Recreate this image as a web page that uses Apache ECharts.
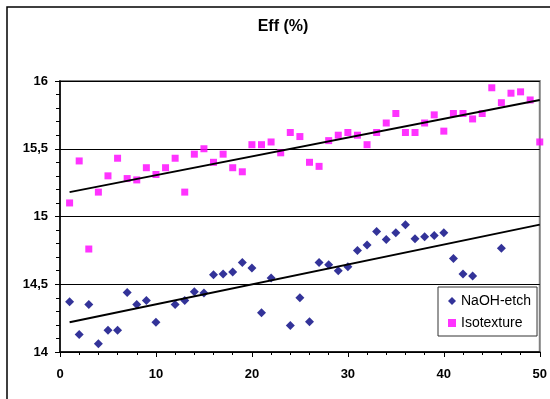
<!DOCTYPE html>
<html>
<head>
<meta charset="utf-8">
<script src="https://cdn.jsdelivr.net/npm/echarts@6/dist/echarts.min.js"></script>
<style>
  html, body { margin: 0; padding: 0; background: #fff; }
  #chart { width: 550px; height: 399px; }
</style>
</head>
<body>
<div id="chart"></div>
<script>
// Isotexture, one value per index 1..50
const isoX = [1,2,3,4,5,6,7,8,9,10,11,12,13,14,15,16,17,18,19,20,21,22,23,24,25,
  26,27,28,29,30,31,32,33,34,35,36,37,38,39,40,41,42,43,44,45,46,47,48,49,50];
const isoY = [15.10,15.41,14.76,15.18,15.30,15.43,15.28,15.27,15.36,15.31,
  15.36,15.43,15.18,15.46,15.50,15.40,15.46,15.36,15.33,15.53,
  15.53,15.55,15.47,15.62,15.59,15.40,15.37,15.56,15.60,15.62,
  15.60,15.53,15.62,15.69,15.76,15.62,15.62,15.69,15.75,15.63,
  15.76,15.76,15.72,15.76,15.95,15.84,15.91,15.92,15.86,15.55];

// NaOH-etch (some indices have no value)
const naohX = [1,2,3,4,5,6,7,8,9,10,12,13,14,15,16,17,18,19,20,21,22,24,25,26,27,
  28,29,30,31,32,33,34,35,36,37,38,39,40,41,42,43,46];
const naohY = [14.37,14.13,14.35,14.06,14.16,14.16,14.44,14.35,14.38,14.22,
  14.35,14.38,14.445,14.435,14.57,14.576,14.59,14.66,14.62,14.29,14.546,
  14.195,14.40,14.224,14.66,14.644,14.60,14.63,14.75,14.79,14.89,14.83,
  14.88,14.94,14.836,14.85,14.86,14.88,14.69,14.576,14.56,14.765];

// trend lines, end points
const trendX = [1, 50];
const isoTrend = [15.18, 15.86];
const naohTrend = [14.22, 14.94];

const yTicks = [14, 14.5, 15, 15.5, 16];
const xTicks = [0, 10, 20, 30, 40, 50];

const font = 'Arial, "Liberation Sans", sans-serif';
const zip = (xs, ys) => xs.map((x, i) => [x, ys[i]]);

const chart = echarts.init(document.getElementById('chart'));
chart.setOption({
  animation: false,
  textStyle: { fontFamily: font },
  title: {
    text: 'Eff (%)',
    left: 278, top: 14, textAlign: 'center',
    textStyle: { fontSize: 16, fontWeight: 'bold', color: '#000', fontFamily: font }
  },
  graphic: [{
    type: 'rect',
    shape: { x: 7, y: 7, width: 700, height: 600 },
    style: { fill: 'none', stroke: '#000', lineWidth: 1.5 },
    z: -1
  }],
  grid: {
    left: 60, right: 7, top: 81, bottom: 47,
    show: true, borderColor: '#808080', borderWidth: 2
  },
  legend: {
    orient: 'vertical',
    left: 438, top: 287, width: 95,
    padding: [7, 6, 6, 10],
    itemGap: 8,
    itemWidth: 8, itemHeight: 8,
    backgroundColor: '#fff',
    borderColor: '#333', borderWidth: 1,
    textStyle: { fontSize: 14, color: '#000', fontFamily: font },
    data: [
      { name: 'NaOH-etch', icon: 'diamond' },
      { name: 'Isotexture', icon: 'rect' }
    ]
  },
  xAxis: {
    type: 'value', min: xTicks[0], max: xTicks[xTicks.length - 1], interval: 10,
    axisLine: { lineStyle: { color: '#000', width: 1.5 } },
    axisTick: { show: true, length: 5, lineStyle: { color: '#000' } },
    minorTick: { show: true, splitNumber: 5, length: 3, lineStyle: { color: '#000' } },
    splitLine: { show: false },
    axisLabel: { margin: 16, fontSize: 13, fontWeight: 'bold', color: '#000', fontFamily: font }
  },
  yAxis: {
    type: 'value', min: yTicks[0], max: yTicks[yTicks.length - 1], interval: 0.5,
    axisLine: { show: true, lineStyle: { color: '#000', width: 1.5 } },
    axisTick: { show: true, length: 5, lineStyle: { color: '#000' } },
    minorTick: { show: true, splitNumber: 5, length: 4, lineStyle: { color: '#000' } },
    splitLine: { show: true, lineStyle: { color: '#000', width: 1 } },
    axisLabel: {
      margin: 12, fontSize: 13, fontWeight: 'bold', color: '#000', fontFamily: font,
      formatter: (v) => String(v).replace('.', ',')
    }
  },
  series: [
    {
      name: 'NaOH-etch', type: 'scatter', symbol: 'diamond', symbolSize: 9,
      itemStyle: { color: '#000080' },
      data: zip(naohX, naohY), z: 3
    },
    {
      name: 'Isotexture', type: 'scatter', symbol: 'rect', symbolSize: 7,
      itemStyle: { color: '#FF00FF' },
      data: zip(isoX, isoY), z: 3
    },
    {
      name: 'isoTrend', type: 'line', symbol: 'none', silent: true,
      lineStyle: { color: '#000', width: 2 },
      data: zip(trendX, isoTrend), z: 4
    },
    {
      name: 'naohTrend', type: 'line', symbol: 'none', silent: true,
      lineStyle: { color: '#000', width: 2 },
      data: zip(trendX, naohTrend), z: 4
    }
  ]
});
</script>
</body>
</html>
